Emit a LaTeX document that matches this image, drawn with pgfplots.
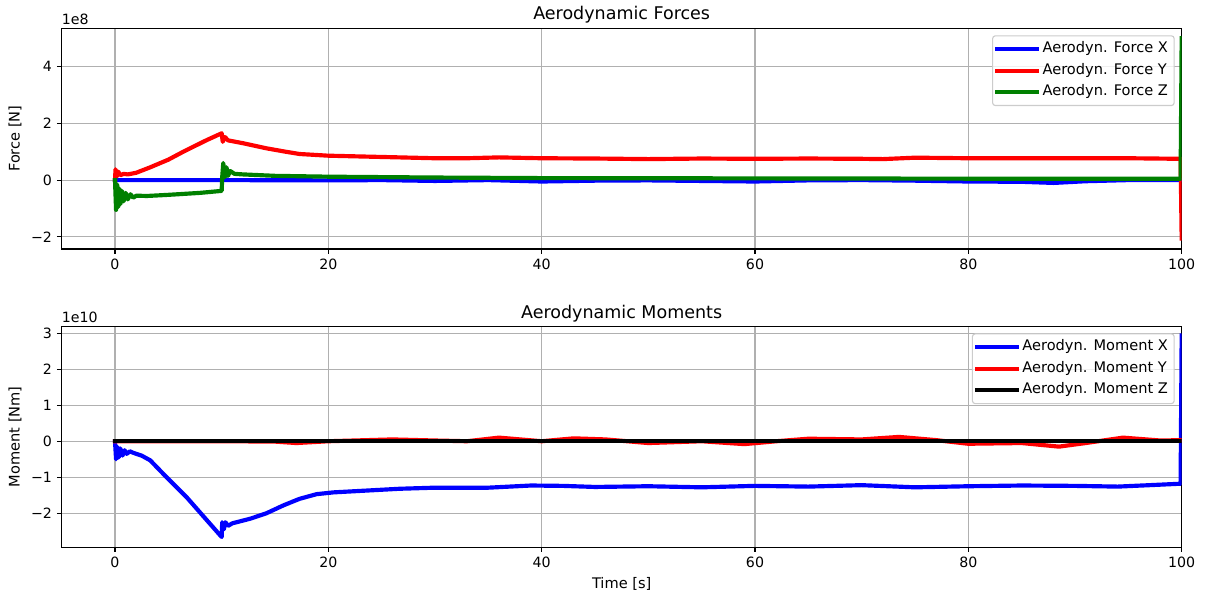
\documentclass[border=0pt]{standalone}
\usepackage{fontspec}
\setmainfont{DejaVu Sans}
\usepackage{pgfplots}
\pgfplotsset{compat=1.18}
\definecolor{mplgreen}{RGB}{0,128,0}
\definecolor{mplgrid}{HTML}{B0B0B0}
\definecolor{legframe}{HTML}{CCCCCC}
\pgfplotsset{
  mpl/.style={
    width=806.4pt, height=158.9pt, scale only axis,
    xmin=-5, xmax=100,
    xtick={0,20,40,60,80,100},
    grid=major, grid style={mplgrid, line width=0.8pt},
    axis line style={line width=0.8pt},
    tick style={black, line width=0.8pt},
    major tick length=3.5pt,
    tick align=outside, tick pos=left,
    tick label style={font=\fontsize{10.2}{12}\selectfont},
    label style={font=\fontsize{10.5}{12}\selectfont},
    every axis title shift=0pt,
    title style={font=\fontsize{12.6}{14}\selectfont, at={(0.5,1)}, anchor=base, yshift=6pt},
    scaled ticks=false,
    /pgf/number format/assume math mode=true,
    legend cell align=left,
    legend style={at={(1,1)}, anchor=north east, xshift=-5pt, yshift=-5pt,
      draw=legframe, line width=0.8pt, rounded corners=2pt,
      fill=white, fill opacity=0.8, text opacity=1,
      font=\fontsize{10.5}{12}\selectfont, inner sep=2pt, row sep=0pt,
      nodes={inner sep=2.5pt, text height=7.7pt, text depth=2.7pt}},
    legend image code/.code={\path (0pt,0pt) -- (28.5pt,0pt);
      \draw[##1, line cap=rect] (2pt,0pt) -- (22pt,0pt);},
    every axis plot/.append style={line width=3pt, line join=round, line cap=rect},
  }
}
\begin{document}
\begin{tikzpicture}
\useasboundingbox (-44.4pt,20.4pt) rectangle (823.2pt,-409.5pt);
\begin{axis}[mpl, name=forces, at={(0,0)}, anchor=north west,
  ymin=-2.43, ymax=5.35,
  ytick={-2,0,2,4}, yticklabels={−2,0,2,4},
  ylabel={Force [N]},
  title={Aerodynamic Forces}]
\addplot[blue] coordinates {
 (0,0) (5,0) (10,0) (20,-0.01) (25,0) (30,-0.03) (35,0) (40,-0.05) (45,-0.02)
 (50,-0.01) (55,-0.03) (60,-0.05) (65,-0.01) (70,0) (75,-0.02) (80,-0.05)
 (85,-0.06) (88,-0.1) (91,-0.04) (95,0) (100,0)
};
\addlegendentry{Aerodyn. Force X}
\addplot[red] coordinates {
 (0,0) (0.05,0.38) (0.15,0.12) (0.3,0.3) (0.5,0.17) (0.8,0.22) (1.2,0.2)
 (2,0.26) (3.3,0.45) (5,0.72) (6.4,1.0) (8.6,1.41) (10,1.65) (10.1,1.35)
 (10.3,1.52) (10.6,1.4) (12,1.3) (14.2,1.12) (16,1.0) (17.3,0.92) (20,0.86)
 (26.7,0.8) (30,0.77) (33,0.77) (36,0.8) (40,0.77) (45,0.76) (50,0.74)
 (55,0.76) (60,0.75) (65,0.76) (70,0.75) (72,0.74) (75,0.79) (80,0.77)
 (90,0.77) (95,0.77) (99.9,0.75) (100,-2.06)
};
\addlegendentry{Aerodyn. Force Y}
\addplot[mplgreen] coordinates {
 (0,0) (0.1,-1.05) (0.2,-0.15) (0.3,-0.95) (0.4,-0.3) (0.5,-0.85) (0.65,-0.38)
 (0.8,-0.75) (1.0,-0.45) (1.2,-0.68) (1.45,-0.5) (1.7,-0.62) (2,-0.55)
 (3,-0.56) (5,-0.52) (8,-0.45) (10,-0.38) (10.05,0.1) (10.15,0.6) (10.3,0.1)
 (10.45,0.45) (10.6,0.15) (10.8,0.32) (11.2,0.22) (12,0.2) (15,0.15)
 (20,0.12) (30,0.09) (40,0.07) (60,0.06) (80,0.05) (99.9,0.05) (100,5.0)
};
\addlegendentry{Aerodyn. Force Z}
\end{axis}
\node[anchor=base west, inner sep=0pt, yshift=3pt, font=\fontsize{10.2}{12}\selectfont]
  at (forces.north west) {1e8};
\begin{axis}[mpl, name=moments, at={(0,-214.6pt)}, anchor=north west,
  ymin=-2.94, ymax=3.19,
  ytick={-2,-1,0,1,2,3}, yticklabels={−2,−1,0,1,2,3},
  ylabel={Moment [Nm]}, xlabel={Time [s]},
  title={Aerodynamic Moments}]
\addplot[blue] coordinates {
 (0,0) (0.1,-0.5) (0.2,-0.15) (0.35,-0.45) (0.5,-0.2) (0.7,-0.4) (0.9,-0.25)
 (1.1,-0.35) (1.4,-0.28) (1.7,-0.32) (2.5,-0.4) (3.3,-0.53) (4.8,-0.99)
 (6.7,-1.55) (8.6,-2.19) (10,-2.66) (10.05,-2.25) (10.2,-2.45) (10.35,-2.25)
 (10.6,-2.35) (11,-2.28) (12.7,-2.15) (14.2,-2.0) (15.8,-1.78) (17.3,-1.6)
 (18.9,-1.47) (20.5,-1.42) (26.7,-1.32) (30,-1.29) (35,-1.29) (39,-1.23)
 (42,-1.24) (45,-1.27) (50,-1.25) (55,-1.28) (60,-1.24) (65,-1.26) (70,-1.22)
 (75,-1.28) (80,-1.25) (85,-1.23) (90,-1.24) (94,-1.26) (97,-1.22)
 (99.9,-1.18) (100,2.94)
};
\addlegendentry{Aerodyn. Moment X}
\addplot[red] coordinates {
 (0,0) (5,0) (10,0) (15,-0.01) (17,-0.05) (20,0) (26,0.05) (30,0.02) (33,0)
 (36,0.1) (40,0) (43,0.08) (46,0.05) (50,-0.05) (55,0) (59,-0.08) (62,0)
 (65,0.07) (70,0.05) (73.5,0.12) (77,0.03) (80,-0.07) (85,-0.05) (88.5,-0.15)
 (91,-0.05) (94.5,0.1) (98,0.02) (100,0.03)
};
\addlegendentry{Aerodyn. Moment Y}
\addplot[black] coordinates {(0,0) (50,0) (100,0)};
\addlegendentry{Aerodyn. Moment Z}
\end{axis}
\node[anchor=base west, inner sep=0pt, yshift=3pt, font=\fontsize{10.2}{12}\selectfont]
  at (moments.north west) {1e10};
\end{tikzpicture}
\end{document}
